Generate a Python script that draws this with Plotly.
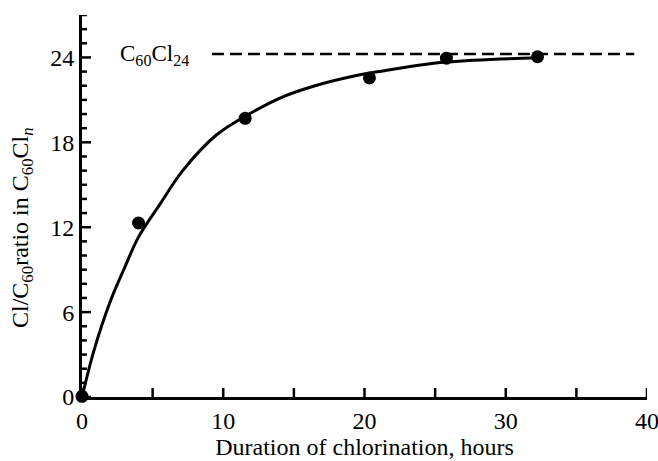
import plotly.graph_objects as go

# measured data points
hours = [0, 4.0, 11.55, 20.35, 25.8, 32.25]
ratio = [0.05, 12.3, 19.7, 22.55, 23.95, 24.05]

# fitted curve
curve_x = [0, 0.85, 2.0, 3.0, 4.0, 5.5, 7.13, 9.49, 11.83, 14.18, 16.5, 18.87, 21.0, 25.8, 32.3]
curve_y = [0, 3.3, 6.75, 9.1, 11.3, 13.6, 16.0, 18.5, 20.0, 21.2, 22.0, 22.6, 23.0, 23.67, 23.97]

# limit line C60Cl24
limit_x = [9.2, 39.1]
limit_y = [24.25, 24.25]

# axis tick positions
x_tick_marks = [0, 5, 10, 15, 20, 25, 30, 35, 40]
y_tick_marks = list(range(0, 28))
y_major = [0, 6, 12, 18, 24]

FONT = "Liberation Serif"
FS = 24
W, H = 658, 461
ML, MR, MT, MB = 82, 11, 15, 64
X_RANGE = [0, 40]
Y_RANGE = [0, 27]
MAJOR_LEN, MINOR_LEN = 9, 5

fig = go.Figure()
fig.add_trace(go.Scatter(x=limit_x, y=limit_y, mode="lines",
                         line=dict(color="black", width=2.5, dash="12px,6px"),
                         showlegend=False, hoverinfo="skip"))
fig.add_trace(go.Scatter(x=curve_x, y=curve_y, mode="lines",
                         line=dict(color="black", width=3, shape="spline", smoothing=1.0),
                         showlegend=False))
fig.add_trace(go.Scatter(x=hours, y=ratio, mode="markers",
                         marker=dict(color="black", size=13),
                         cliponaxis=False, showlegend=False))

# inside tick marks as pixel-sized line shapes anchored on the axes
for v in y_tick_marks:
    ln = MAJOR_LEN if v in y_major else MINOR_LEN
    fig.add_shape(type="line", xref="x", yref="y", xsizemode="pixel", xanchor=X_RANGE[0],
                  x0=0, x1=ln, y0=v, y1=v, layer="above",
                  line=dict(color="black", width=2.5))
for v in x_tick_marks:
    fig.add_shape(type="line", xref="x", yref="y", ysizemode="pixel", yanchor=Y_RANGE[0],
                  y0=0, y1=MAJOR_LEN, x0=v, x1=v, layer="above",
                  line=dict(color="black", width=2.5))

fig.add_annotation(x=7.7, y=24.2, xref="x", yref="y", xanchor="right", yanchor="middle",
                   text="C<sub>60</sub>Cl<sub>24</sub>", showarrow=False,
                   font=dict(family=FONT, size=23, color="black"))

fig.add_annotation(x=(22 - ML) / (W - ML - MR), y=(H - MB - 228) / (H - MT - MB),
                   xref="paper", yref="paper", showarrow=False,
                   text="Cl/C<sub>60</sub>ratio in C<sub>60</sub>Cl<sub><i>n</i></sub>",
                   textangle=-90, xanchor="center", yanchor="middle",
                   font=dict(family=FONT, size=FS, color="black"))

fig.update_layout(
    template="none",
    width=W, height=H,
    margin=dict(l=ML, r=MR, t=MT, b=MB, autoexpand=False),
    paper_bgcolor="white", plot_bgcolor="white",
    font=dict(family=FONT, size=FS, color="black"),
    xaxis=dict(range=X_RANGE, tickmode="linear", tick0=0, dtick=10, automargin=False,
               showgrid=False, zeroline=False, showline=True, linecolor="black", linewidth=3,
               ticks="", ticklabeloverflow="allow",
               title=dict(text="Duration of chlorination, hours", standoff=0,
                          font=dict(family=FONT, size=FS)),
               tickfont=dict(family=FONT, size=FS, color="black")),
    yaxis=dict(range=Y_RANGE, tickmode="linear", tick0=0, dtick=6, automargin=False,
               showgrid=False, zeroline=False, showline=True, linecolor="black", linewidth=3,
               ticks="", ticklabeloverflow="allow",
               tickfont=dict(family=FONT, size=FS, color="black")),
)

fig.write_html("out.html")
